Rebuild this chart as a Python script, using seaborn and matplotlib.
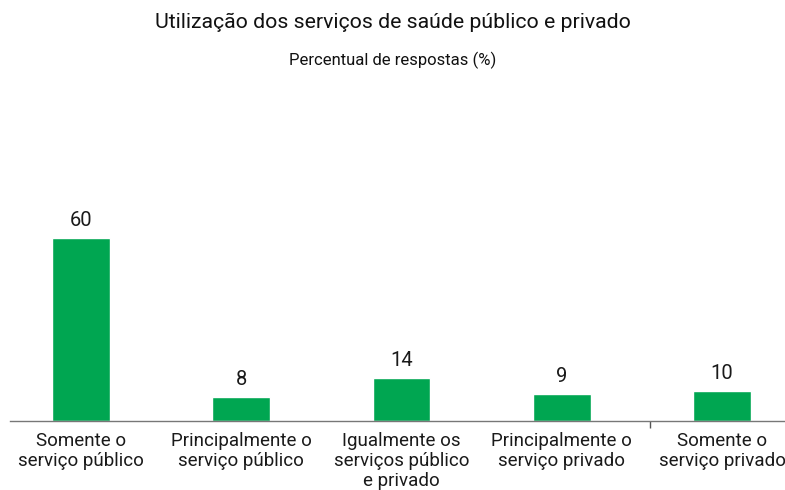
import matplotlib
matplotlib.use('Agg')
import matplotlib.pyplot as plt
import seaborn as sns
import pandas as pd

categorias = ['Somente o\nserviço público', 'Principalmente o\nserviço público',
              'Igualmente os\nserviços público\ne privado', 'Principalmente o\nserviço privado',
              'Somente o\nserviço privado']
valores = [60, 8, 14, 9, 10]

titulo = 'Utilização dos serviços de saúde público e privado'
subtitulo = 'Percentual de respostas (%)'

sns.set_style('white')
plt.rcParams['font.family'] = ['Roboto', 'DejaVu Sans']

df = pd.DataFrame({'cat': categorias, 'val': valores})

fig = plt.figure(figsize=(7.85, 4.9), dpi=100)
ax = fig.add_axes([10 / 785, 69 / 490, 775 / 785, 213.5 / 490])
sns.barplot(data=df, x='cat', y='val', color='#00A651', width=0.36, saturation=1, ax=ax)

for i, v in enumerate(valores):
    ax.text(i, v + 2.6, str(v), ha='center', va='bottom', fontsize=14.5, color='#1a1a1a')

ax.set_xlim(-0.443, 4.393)
ax.set_ylim(0, 70)
ax.set_xlabel('')
ax.set_ylabel('')
ax.set_yticks([])
ax.set_xticks(range(len(categorias)))
ax.set_xticklabels(categorias, fontsize=13.5, color='#1a1a1a', linespacing=1.15)
ax.tick_params(axis='x', which='major', bottom=True, length=0, pad=8)
ax.set_xticks([3.55], minor=True)
ax.tick_params(axis='x', which='minor', bottom=True, length=5, color='#555555', width=1)
for s in ['top', 'left', 'right']:
    ax.spines[s].set_visible(False)
ax.spines['bottom'].set_color('#777777')
ax.spines['bottom'].set_linewidth(1)

fig.text(0.5, 1 - 22 / 490, titulo, ha='center', va='center', fontsize=15.3, color='#111111')
fig.text(0.5, 1 - 60 / 490, subtitulo, ha='center', va='center', fontsize=12, color='#111111')

fig.savefig('out.png', dpi=100)
